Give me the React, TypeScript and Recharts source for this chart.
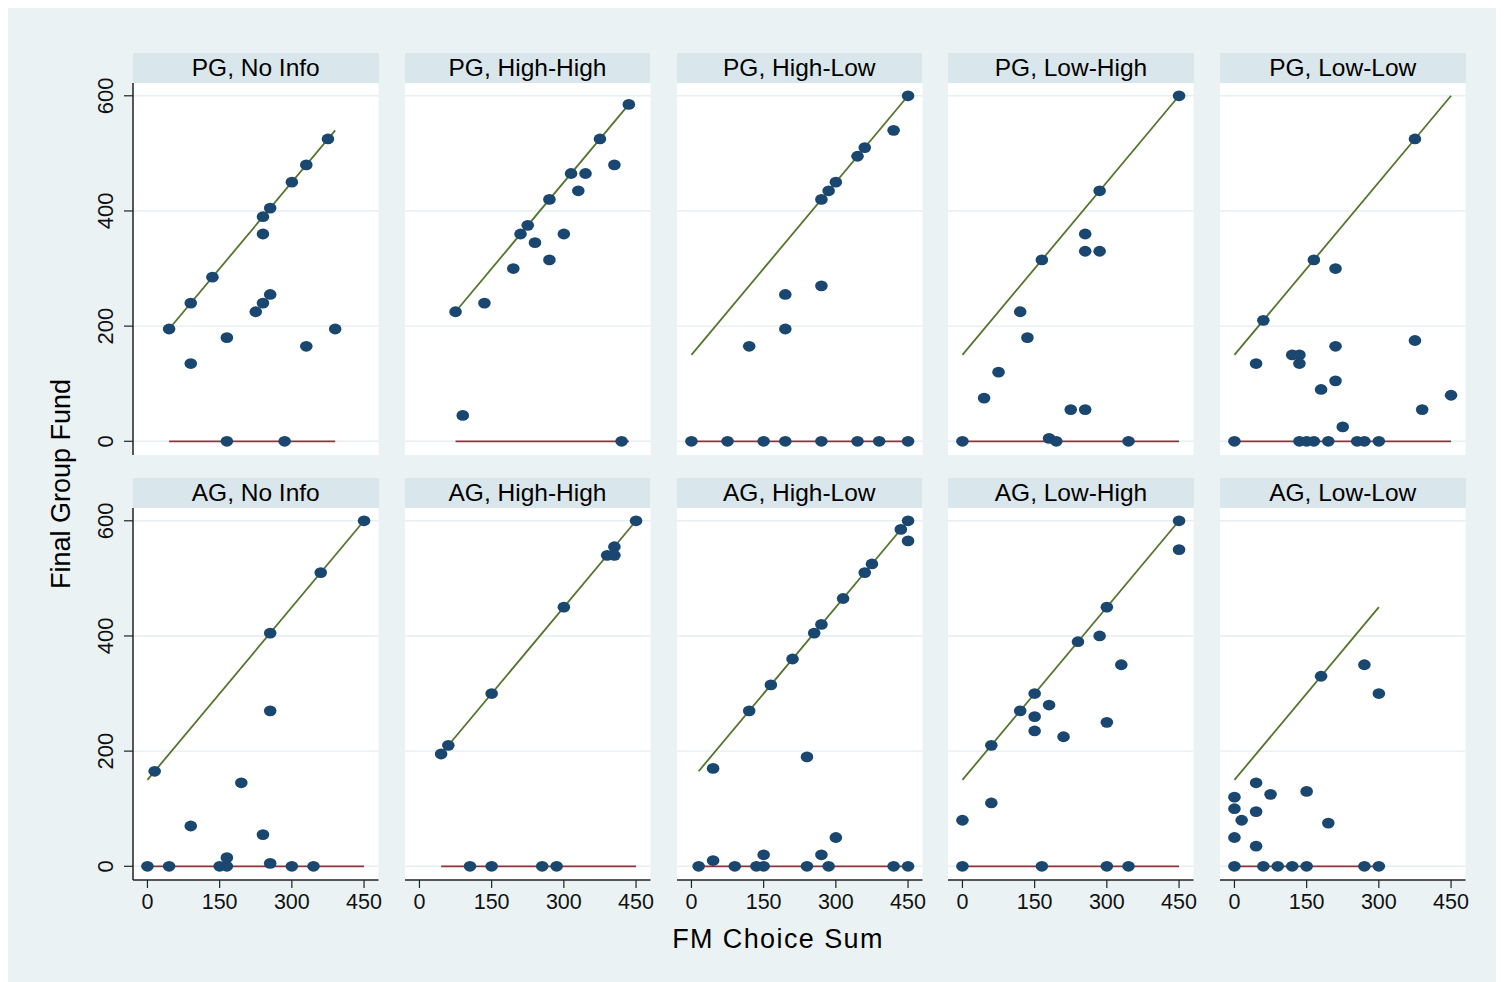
import React from 'react';
import { ScatterChart, Scatter, XAxis, YAxis, CartesianGrid, ReferenceLine } from 'recharts';

// ---------- data (FM Choice Sum, Final Group Fund) ----------
const pgNoInfo: [number, number][] = [
  [45, 195], [90, 240], [90, 135], [135, 285], [165, 180], [165, 0], [225, 225], [240, 240], [240, 360],
  [240, 390], [255, 255], [255, 405], [285, 0], [300, 450], [330, 480], [330, 165], [375, 525], [390, 195],
];
const pgHighHigh: [number, number][] = [
  [75, 225], [90, 45], [135, 240], [195, 300], [210, 360], [225, 375], [240, 345], [270, 420], [270, 315],
  [300, 360], [315, 465], [330, 435], [345, 465], [375, 525], [405, 480], [420, 0], [435, 585],
];
const pgHighLow: [number, number][] = [
  [0, 0], [75, 0], [150, 0], [195, 0], [195, 255], [195, 195], [120, 165], [270, 0], [270, 270], [270, 420],
  [285, 435], [300, 450], [345, 495], [345, 0], [360, 510], [390, 0], [420, 540], [450, 600], [450, 0],
];
const pgLowHigh: [number, number][] = [
  [0, 0], [45, 75], [75, 120], [120, 225], [135, 180], [165, 315], [180, 5], [195, 0], [225, 55], [255, 55],
  [255, 360], [255, 330], [285, 330], [285, 435], [345, 0], [450, 600],
];
const pgLowLow: [number, number][] = [
  [0, 0], [45, 135], [60, 210], [120, 150], [135, 150], [135, 135], [135, 0], [150, 0], [165, 0], [165, 315],
  [180, 90], [195, 0], [210, 300], [210, 165], [210, 105], [225, 25], [255, 0], [270, 0], [300, 0], [375, 525],
  [375, 175], [390, 55], [450, 80],
];
const agNoInfo: [number, number][] = [
  [0, 0], [45, 0], [15, 165], [90, 70], [150, 0], [165, 0], [165, 15], [195, 145], [240, 55], [255, 5],
  [255, 270], [255, 405], [300, 0], [345, 0], [360, 510], [450, 600],
];
const agHighHigh: [number, number][] = [
  [45, 195], [60, 210], [105, 0], [150, 0], [150, 300], [255, 0], [285, 0], [300, 450], [390, 540],
  [405, 555], [405, 540], [450, 600],
];
const agHighLow: [number, number][] = [
  [15, 0], [45, 10], [45, 170], [90, 0], [120, 270], [135, 0], [150, 0], [150, 20], [165, 315], [210, 360],
  [240, 0], [240, 190], [255, 405], [270, 20], [270, 420], [285, 0], [300, 50], [315, 465], [360, 510],
  [375, 525], [420, 0], [435, 585], [450, 600], [450, 565], [450, 0],
];
const agLowHigh: [number, number][] = [
  [0, 0], [0, 80], [60, 110], [60, 210], [120, 270], [150, 300], [150, 260], [150, 235], [165, 0], [180, 280],
  [210, 225], [240, 390], [285, 400], [300, 450], [300, 250], [300, 0], [330, 350], [345, 0], [450, 600], [450, 550],
];
const agLowLow: [number, number][] = [
  [0, 0], [0, 50], [0, 100], [0, 120], [15, 80], [45, 145], [45, 95], [45, 35], [60, 0], [75, 125], [90, 0],
  [120, 0], [150, 0], [150, 130], [180, 330], [195, 75], [270, 0], [270, 350], [300, 0], [300, 300],
];

const panelTitles = [
  'PG, No Info', 'PG, High-High', 'PG, High-Low', 'PG, Low-High', 'PG, Low-Low',
  'AG, No Info', 'AG, High-High', 'AG, High-Low', 'AG, Low-High', 'AG, Low-Low',
];
const panelData = [
  pgNoInfo, pgHighHigh, pgHighLow, pgLowHigh, pgLowLow,
  agNoInfo, agHighHigh, agHighLow, agLowHigh, agLowLow,
];
const xTicks = [0, 150, 300, 450];
const yTicks = [0, 200, 400, 600];
const lineIntercept = 150; // reference line: fund = 150 + choice sum
const xTitle = 'FM Choice Sum';
const yTitle = 'Final Group Fund';

// ---------- layout / style ----------
const FONT = '"Liberation Sans", Arial, Helvetica, sans-serif';
const X_DOMAIN: [number, number] = [-30, 480];
const Y_DOMAIN: [number, number] = [-23.8, 622.2];
const PAGE = 8;
const PLOT_LEFT0 = 133;
const COL_STEP = 271.75;
const PLOT_W = 245.5;
const PLOT_H = 372;
const ROW_TOP = [83, 507.5];
const HEADER_H = 30;
const YW = 60;
const XH = 50;
const NAVY = '#1a476f';
const MAROON = '#90353b';
const GREEN = '#55752f';
const AXIS = '#222';
const GRID = '#e6eef1';
const BG = '#eaf2f3';
const STRIP = '#d9e6eb';

const Dot = (p: any) => <ellipse cx={p.cx} cy={p.cy} rx={6.3} ry={5.4} fill={NAVY} />;

const YTick = (p: any) => {
  const cx = p.x - 18;
  return (
    <text
      x={cx}
      y={p.y}
      transform={`rotate(-90 ${cx} ${p.y})`}
      textAnchor="middle"
      dominantBaseline="central"
      fontFamily={FONT}
      fontSize={22}
      fill="#111"
    >
      {p.payload.value}
    </text>
  );
};

const XTick = (p: any) => (
  <text
    x={p.x}
    y={p.y + 14}
    textAnchor="middle"
    dominantBaseline="central"
    fontFamily={FONT}
    fontSize={21.5}
    fill="#111"
  >
    {p.payload.value}
  </text>
);

function Panel({ idx }: { idx: number }) {
  const row = Math.floor(idx / 5);
  const col = idx % 5;
  const pts = panelData[idx].map(([x, y]) => ({ x, y }));
  const xs = pts.map((d) => d.x);
  const minX = Math.min(...xs);
  const maxX = Math.max(...xs);
  const showY = col === 0;
  const showX = row === 1;
  const plotLeft = PLOT_LEFT0 + col * COL_STEP;
  const plotTop = ROW_TOP[row];
  const w = PLOT_W + (showY ? YW : 0);
  const h = PLOT_H + (showX ? XH : 0);
  return (
    <>
      <div
        style={{
          position: 'absolute',
          left: plotLeft - PAGE,
          top: plotTop - HEADER_H - PAGE,
          width: PLOT_W,
          height: HEADER_H,
          background: STRIP,
          fontFamily: FONT,
          fontSize: 24.5,
          lineHeight: `${HEADER_H}px`,
          textAlign: 'center',
          color: '#000',
          whiteSpace: 'nowrap',
        }}
      >
        {panelTitles[idx]}
      </div>
      <div style={{ position: 'absolute', left: plotLeft - (showY ? YW : 0) - PAGE, top: plotTop - PAGE }}>
        <ScatterChart width={w} height={h} margin={{ top: 0, right: 0, bottom: 0, left: 0 }}>
          <CartesianGrid
            vertical={false}
            horizontalValues={yTicks}
            stroke={GRID}
            strokeWidth={1.4}
            fill="#ffffff"
            fillOpacity={1}
          />
          <XAxis
            type="number"
            dataKey="x"
            domain={X_DOMAIN}
            ticks={xTicks}
            interval={0}
            allowDataOverflow
            hide={!showX}
            height={XH}
            tickSize={8}
            tickMargin={0}
            axisLine={{ stroke: AXIS, strokeWidth: 1.5 }}
            tickLine={{ stroke: AXIS, strokeWidth: 1.2 }}
            tick={<XTick />}
          />
          <YAxis
            type="number"
            dataKey="y"
            domain={Y_DOMAIN}
            ticks={yTicks}
            interval={0}
            allowDataOverflow
            hide={!showY}
            width={YW}
            tickSize={9}
            tickMargin={0}
            axisLine={{ stroke: AXIS, strokeWidth: 1.5 }}
            tickLine={{ stroke: AXIS, strokeWidth: 1.2 }}
            tick={<YTick />}
          />
          <Scatter data={pts} shape={Dot} isAnimationActive={false} />
          <ReferenceLine
            segment={[{ x: minX, y: 0 }, { x: maxX, y: 0 }]}
            stroke={MAROON}
            strokeWidth={1.8}
          />
          <ReferenceLine
            segment={[
              { x: minX, y: minX + lineIntercept },
              { x: maxX, y: maxX + lineIntercept },
            ]}
            stroke={GREEN}
            strokeWidth={1.8}
          />
        </ScatterChart>
      </div>
    </>
  );
}

export default function App() {
  return (
    <div style={{ position: 'relative', width: 1496, height: 974, background: BG, overflow: 'hidden' }}>
      <style>{'.recharts-surface{overflow:visible}.recharts-wrapper{overflow:visible}'}</style>
      {panelTitles.map((_, i) => (
        <Panel key={i} idx={i} />
      ))}
      <div
        style={{
          position: 'absolute',
          left: 778 - PAGE - 200,
          top: 939 - PAGE - 20,
          width: 400,
          height: 40,
          lineHeight: '40px',
          textAlign: 'center',
          fontFamily: FONT,
          fontSize: 27,
          letterSpacing: 1.4,
          color: '#000',
        }}
      >
        {xTitle}
      </div>
      <div
        style={{
          position: 'absolute',
          left: 61 - PAGE - 200,
          top: 484 - PAGE - 20,
          width: 400,
          height: 40,
          lineHeight: '40px',
          textAlign: 'center',
          fontFamily: FONT,
          fontSize: 27,
          color: '#000',
          transform: 'rotate(-90deg)',
        }}
      >
        {yTitle}
      </div>
    </div>
  );
}
